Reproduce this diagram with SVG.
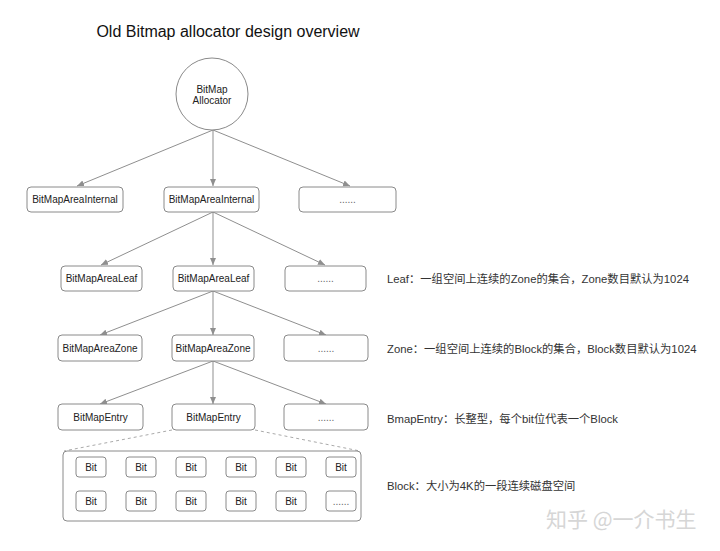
<svg xmlns="http://www.w3.org/2000/svg" width="720" height="551" viewBox="0 0 720 551">
<defs>
<style>
.n{fill:#fff;stroke:#8a8a8a;stroke-width:1}
.t{font-family:"Liberation Sans",Arial,sans-serif;font-size:10px;fill:#222;text-anchor:middle}
.d{font-family:"Liberation Sans",Arial,sans-serif;font-size:10px;fill:#666;text-anchor:middle}
.c{stroke:#8f8f8f;stroke-width:1;fill:none}
.ds{stroke:#aaa;stroke-width:1;fill:none;stroke-dasharray:3,3}
.note{font-family:"Liberation Sans","Noto Sans CJK SC",sans-serif;font-size:11.3px;fill:#333}
</style>
<marker id="ah" markerWidth="8" markerHeight="8" refX="7" refY="4" orient="auto" markerUnits="userSpaceOnUse">
<path d="M0,1 L7,4 L0,7 Z" fill="#8f8f8f"/>
</marker>
</defs>
<rect width="720" height="551" fill="#fff"/>
<text x="228" y="37" style="font-family:'Liberation Sans',Arial,sans-serif;font-size:16px;fill:#111;text-anchor:middle">Old Bitmap allocator design overview</text>

<g id="connectors">
<line class="c" x1="213" y1="130" x2="77" y2="186" marker-end="url(#ah)"/>
<line class="c" x1="213" y1="130" x2="213" y2="186" marker-end="url(#ah)"/>
<line class="c" x1="213" y1="130" x2="350" y2="186" marker-end="url(#ah)"/>
<line class="c" x1="213" y1="212" x2="101" y2="265" marker-end="url(#ah)"/>
<line class="c" x1="213" y1="212" x2="213" y2="265" marker-end="url(#ah)"/>
<line class="c" x1="213" y1="212" x2="325" y2="265" marker-end="url(#ah)"/>
<line class="c" x1="213" y1="291" x2="100" y2="335" marker-end="url(#ah)"/>
<line class="c" x1="213" y1="291" x2="213" y2="335" marker-end="url(#ah)"/>
<line class="c" x1="213" y1="291" x2="326" y2="335" marker-end="url(#ah)"/>
<line class="c" x1="213" y1="361" x2="100" y2="404" marker-end="url(#ah)"/>
<line class="c" x1="213" y1="361" x2="213" y2="404" marker-end="url(#ah)"/>
<line class="c" x1="213" y1="361" x2="326" y2="404" marker-end="url(#ah)"/>
<line class="ds" x1="172" y1="430" x2="64" y2="451"/>
<line class="ds" x1="255" y1="430" x2="360" y2="451"/>
</g>

<g id="allocator">
<circle class="n" cx="212" cy="94" r="36"/>
<text class="t" x="212" y="93">BitMap</text>
<text class="t" x="212" y="104">Allocator</text>
</g>

<g id="internal1"><rect class="n" x="27" y="187" width="96" height="25" rx="4"/><text class="t" x="75" y="203">BitMapAreaInternal</text></g>
<g id="internal2"><rect class="n" x="164" y="187" width="95" height="25" rx="4"/><text class="t" x="211.5" y="203">BitMapAreaInternal</text></g>
<g id="internal3"><rect class="n" x="299" y="187" width="97" height="25" rx="4"/><text class="d" x="347.5" y="203">......</text></g>

<g id="leaf1"><rect class="n" x="61" y="266" width="81" height="25" rx="4"/><text class="t" x="101.5" y="282">BitMapAreaLeaf</text></g>
<g id="leaf2"><rect class="n" x="173" y="266" width="81" height="25" rx="4"/><text class="t" x="213.5" y="282">BitMapAreaLeaf</text></g>
<g id="leaf3"><rect class="n" x="285" y="266" width="81" height="25" rx="4"/><text class="d" x="325.5" y="282">......</text></g>

<g id="zone1"><rect class="n" x="58" y="335" width="84" height="26" rx="4"/><text class="t" x="100" y="351.5">BitMapAreaZone</text></g>
<g id="zone2"><rect class="n" x="172" y="335" width="82" height="26" rx="4"/><text class="t" x="213" y="351.5">BitMapAreaZone</text></g>
<g id="zone3"><rect class="n" x="284" y="335" width="84" height="26" rx="4"/><text class="d" x="326" y="351.5">......</text></g>

<g id="entry1"><rect class="n" x="58" y="404" width="85" height="26" rx="4"/><text class="t" x="100.5" y="420.5">BitMapEntry</text></g>
<g id="entry2"><rect class="n" x="172" y="404" width="83" height="26" rx="4"/><text class="t" x="213.5" y="420.5">BitMapEntry</text></g>
<g id="entry3"><rect class="n" x="284" y="404" width="84" height="26" rx="4"/><text class="d" x="326" y="420.5">......</text></g>

<g id="block">
<rect class="n" x="63" y="451" width="298" height="70" rx="4"/>
<rect class="n" x="76" y="457" width="30" height="20" rx="3"/><text class="t" x="91" y="470.5">Bit</text>
<rect class="n" x="126" y="457" width="30" height="20" rx="3"/><text class="t" x="141" y="470.5">Bit</text>
<rect class="n" x="176" y="457" width="30" height="20" rx="3"/><text class="t" x="191" y="470.5">Bit</text>
<rect class="n" x="226" y="457" width="30" height="20" rx="3"/><text class="t" x="241" y="470.5">Bit</text>
<rect class="n" x="276" y="457" width="30" height="20" rx="3"/><text class="t" x="291" y="470.5">Bit</text>
<rect class="n" x="326" y="457" width="30" height="20" rx="3"/><text class="t" x="341" y="470.5">Bit</text>
<rect class="n" x="76" y="491" width="30" height="20" rx="3"/><text class="t" x="91" y="504.5">Bit</text>
<rect class="n" x="126" y="491" width="30" height="20" rx="3"/><text class="t" x="141" y="504.5">Bit</text>
<rect class="n" x="176" y="491" width="30" height="20" rx="3"/><text class="t" x="191" y="504.5">Bit</text>
<rect class="n" x="226" y="491" width="30" height="20" rx="3"/><text class="t" x="241" y="504.5">Bit</text>
<rect class="n" x="276" y="491" width="30" height="20" rx="3"/><text class="t" x="291" y="504.5">Bit</text>
<rect class="n" x="326" y="491" width="30" height="20" rx="3"/><text class="d" x="341" y="504.5">......</text>
</g>

<g id="notes">
<text class="note" x="387" y="283">Leaf：一组空间上连续的Zone的集合，Zone数目默认为1024</text>
<text class="note" x="387" y="353">Zone：一组空间上连续的Block的集合，Block数目默认为1024</text>
<text class="note" x="387" y="423">BmapEntry：长整型，每个bit位代表一个Block</text>
<text class="note" x="387" y="490">Block：大小为4K的一段连续磁盘空间</text>
</g>
<text x="546" y="527" style="font-family:'Noto Sans CJK SC',sans-serif;font-size:21px;fill:#d6d6d6">知乎 @一介书生</text>
</svg>
